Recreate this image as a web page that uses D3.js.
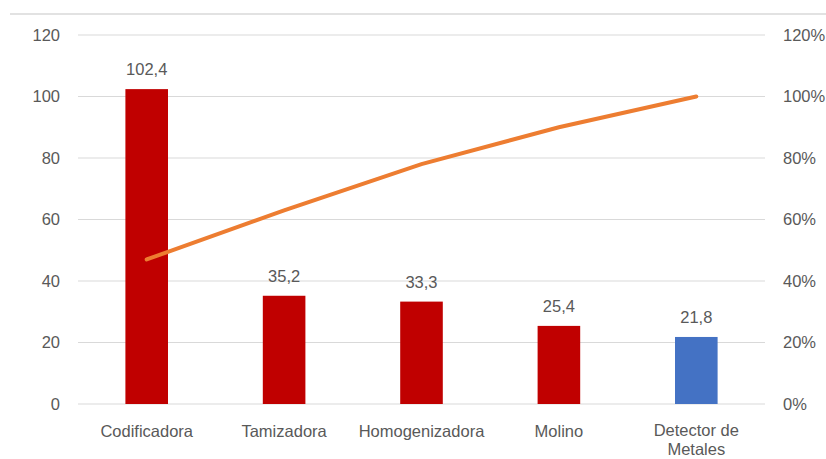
<!DOCTYPE html>
<html>
<head>
<meta charset="utf-8">
<script src="https://cdn.jsdelivr.net/npm/d3@7"></script>
<style>
  body { margin: 0; background: #fff; }
  text { font-family: "Liberation Sans", "DejaVu Sans", sans-serif; fill: #595959; }
</style>
</head>
<body>
<div id="chart"></div>
<script>
// data
const categories = ["Codificadora", "Tamizadora", "Homogenizadora", "Molino", "Detector de Metales"];
const values = [102.4, 35.2, 33.3, 25.4, 21.8];
const valueLabels = ["102,4", "35,2", "33,3", "25,4", "21,8"];
const cumulative = [0.47, 0.63, 0.78, 0.90, 1.00];
const barColors = ["#C00000", "#C00000", "#C00000", "#C00000", "#4472C4"];
const leftTicks = [0, 20, 40, 60, 80, 100, 120];
const rightTicks = [0, 0.2, 0.4, 0.6, 0.8, 1.0, 1.2];

const w = 826, h = 459;
const plotLeft = 78, plotRight = 765, plotTop = 35, plotBottom = 404;
const fs = "16.5px";

const svg = d3.select("#chart").append("svg")
  .attr("width", w)
  .attr("height", h);

// top border line of the cropped chart frame
svg.append("line")
  .attr("x1", 10).attr("x2", w)
  .attr("y1", 14).attr("y2", 14)
  .attr("stroke", "#d9d9d9")
  .attr("stroke-width", 1.5);

const x = d3.scaleBand().domain(categories).range([plotLeft, plotRight]).paddingInner(0.69).paddingOuter(0.345);
const y = d3.scaleLinear().domain([0, 120]).range([plotBottom, plotTop]);
const y2 = d3.scaleLinear().domain([0, 1.2]).range([plotBottom, plotTop]);

// gridlines
svg.append("g")
  .selectAll("line")
  .data(leftTicks)
  .enter()
  .append("line")
  .attr("x1", plotLeft).attr("x2", plotRight)
  .attr("y1", d => y(d)).attr("y2", d => y(d))
  .attr("stroke", "#d9d9d9")
  .attr("stroke-width", 1);

// left axis
const axL = svg.append("g")
  .attr("transform", `translate(${plotLeft - 18},0)`)
  .call(d3.axisLeft(y).tickValues(leftTicks).tickSize(0).tickPadding(0));
axL.select(".domain").remove();
axL.attr("font-family", null).attr("font-size", null);
axL.selectAll("text").style("font-size", fs).attr("fill", "#595959");

// right axis
const axR = svg.append("g")
  .attr("transform", `translate(${plotRight + 18},0)`)
  .call(d3.axisRight(y2).tickValues(rightTicks).tickSize(0).tickPadding(0)
    .tickFormat(d => Math.round(d * 100) + "%"));
axR.select(".domain").remove();
axR.attr("font-family", null).attr("font-size", null);
axR.selectAll("text").style("font-size", fs).attr("fill", "#595959");

// bars
svg.selectAll("rect.bar")
  .data(values)
  .enter()
  .append("rect")
  .attr("class", "bar")
  .attr("x", (d, i) => x(categories[i]))
  .attr("width", x.bandwidth())
  .attr("y", d => y(d))
  .attr("height", d => y(0) - y(d))
  .attr("fill", (d, i) => barColors[i]);

// value labels
svg.selectAll("text.val")
  .data(values)
  .enter()
  .append("text")
  .attr("class", "val")
  .attr("x", (d, i) => x(categories[i]) + x.bandwidth() / 2)
  .attr("y", d => y(d) - 14)
  .attr("text-anchor", "middle")
  .style("font-size", fs)
  .text((d, i) => valueLabels[i]);

// cumulative line
const line = d3.line()
  .x((d, i) => x(categories[i]) + x.bandwidth() / 2)
  .y(d => y2(d));

svg.append("path")
  .datum(cumulative)
  .attr("d", line)
  .attr("fill", "none")
  .attr("stroke", "#ED7D31")
  .attr("stroke-width", 4)
  .attr("stroke-linecap", "round");

// category labels
const cat = svg.selectAll("text.cat")
  .data(categories)
  .enter()
  .append("text")
  .attr("class", "cat")
  .attr("x", d => x(d) + x.bandwidth() / 2)
  .attr("y", 437)
  .attr("text-anchor", "middle")
  .style("font-size", fs);

cat.each(function(d) {
  const t = d3.select(this);
  if (d === "Detector de Metales") {
    t.append("tspan").attr("x", t.attr("x")).attr("y", 436).text("Detector de");
    t.append("tspan").attr("x", t.attr("x")).attr("y", 455).text("Metales");
  } else {
    t.text(d);
  }
});
</script>
</body>
</html>
